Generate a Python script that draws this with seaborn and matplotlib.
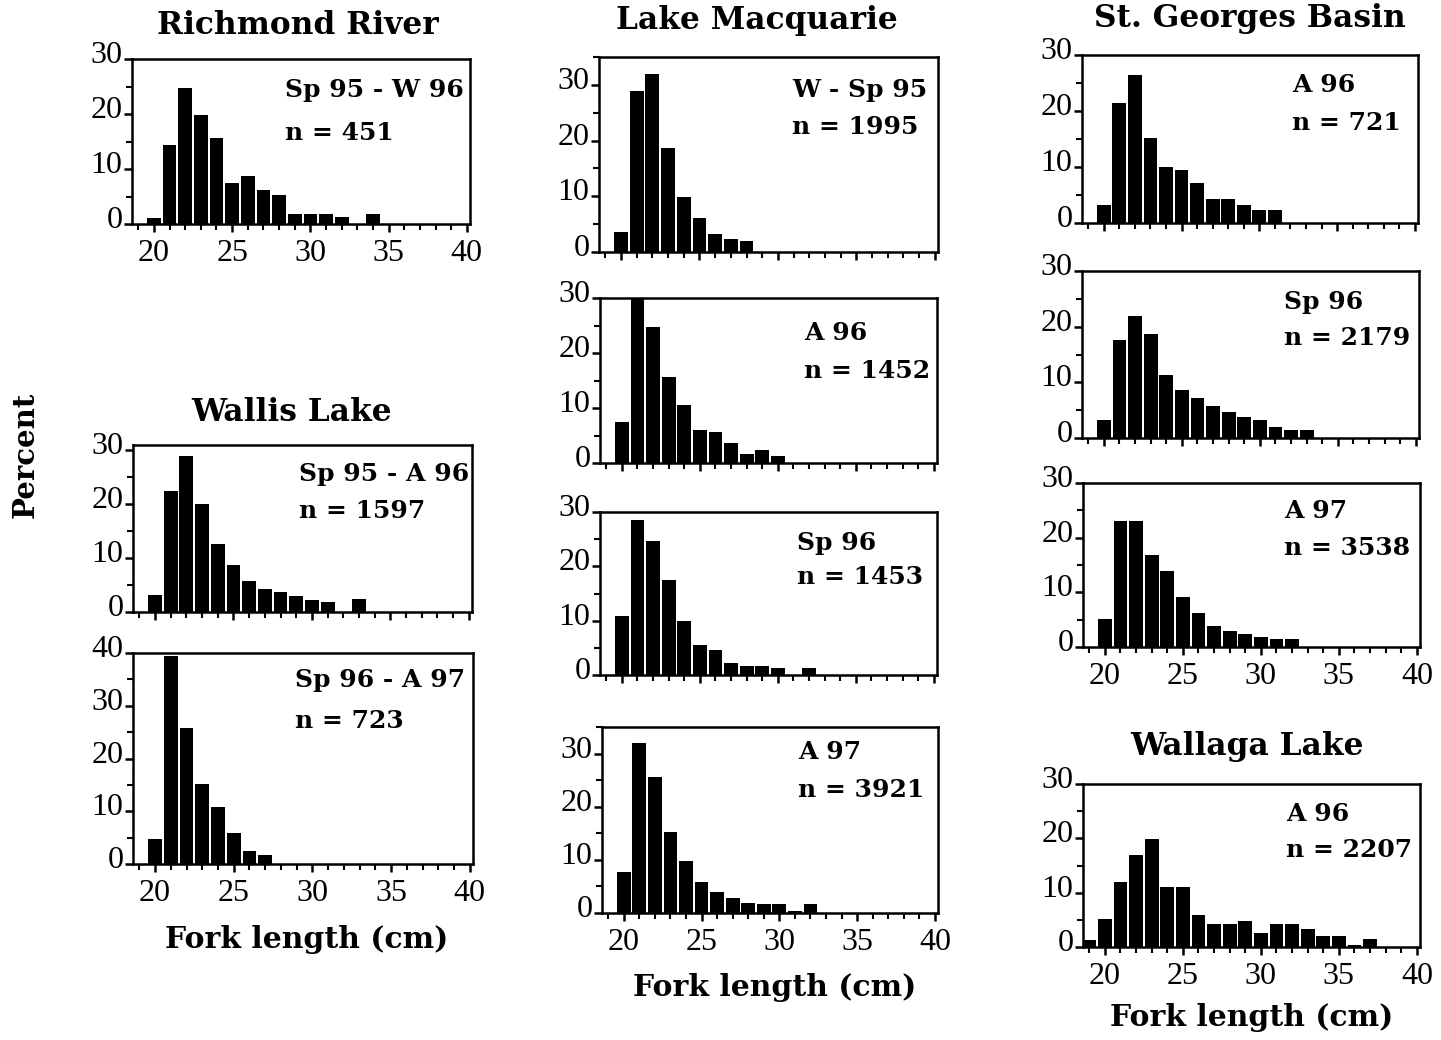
import matplotlib
matplotlib.use("Agg")
import matplotlib.pyplot as plt
import matplotlib.transforms as mtransforms
from matplotlib.ticker import MultipleLocator
import seaborn as sns

# ---- data: percent of catch per 1 cm fork-length class ----
richmond_len = list(range(20, 35))
richmond_pct = [1.1, 14.4, 24.8, 19.9, 15.6, 7.5, 8.7, 6.2, 5.3, 1.8, 1.8, 1.8, 1.3, 0.0, 1.8]

wallis1_len = list(range(20, 34))
wallis1_pct = [3.2, 22.5, 28.9, 20.1, 12.6, 8.8, 5.8, 4.3, 3.8, 2.9, 2.3, 1.9, 0.0, 2.4]

wallis2_len = list(range(20, 28))
wallis2_pct = [4.7, 39.4, 25.8, 15.2, 10.8, 5.8, 2.4, 1.8]

macq1_len = list(range(20, 29))
macq1_pct = [3.6, 28.9, 31.9, 18.7, 9.9, 6.1, 3.3, 2.3, 1.9]

macq2_len = list(range(20, 31))
macq2_pct = [7.4, 30.0, 24.7, 15.6, 10.5, 6.0, 5.6, 3.7, 1.7, 2.3, 1.2]

macq3_len = list(range(20, 33))
macq3_pct = [10.9, 28.6, 24.7, 17.4, 9.9, 5.5, 4.6, 2.2, 1.7, 1.7, 1.2, 0.0, 1.2]

macq4_len = list(range(20, 33))
macq4_pct = [7.8, 31.9, 25.5, 15.2, 9.8, 5.9, 3.9, 2.9, 1.9, 1.6, 1.6, 0.4, 1.6]

stg1_len = list(range(20, 32))
stg1_pct = [3.2, 21.5, 26.4, 15.2, 10.0, 9.5, 7.1, 4.3, 4.3, 3.3, 2.4, 2.4]

stg2_len = list(range(20, 34))
stg2_pct = [3.2, 17.6, 22.0, 18.6, 11.4, 8.6, 7.1, 5.7, 4.7, 3.8, 3.3, 1.9, 1.4, 1.4]

stg3_len = list(range(20, 33))
stg3_pct = [5.1, 23.0, 23.0, 16.8, 13.9, 9.2, 6.2, 3.9, 2.9, 2.4, 1.9, 1.5, 1.5]

wallaga_len = list(range(19, 38))
wallaga_pct = [1.2, 5.2, 12.0, 16.9, 19.9, 11.1, 11.1, 5.8, 4.3, 4.3, 4.8, 2.5,
               4.3, 4.3, 3.4, 2.0, 2.0, 0.3, 1.5]

x_ticks = [20, 25, 30, 35, 40]

# ---- layout (pixel boxes: left, top, right, bottom) ----
W, H = 1441, 1040
panels = [
    # lengths, pct, box, ymax, yticks, period, n, text pos (x, y1, y2), xlabels
    (richmond_len, richmond_pct, (132, 59, 470, 224), 30, [0, 10, 20, 30],
     "Sp 95 - W 96", "n = 451", (285, 90, 133), True),
    (wallis1_len, wallis1_pct, (133, 445, 472, 612), 31, [0, 10, 20, 30],
     "Sp 95 - A 96", "n = 1597", (299, 474, 511), False),
    (wallis2_len, wallis2_pct, (133, 653, 473, 864), 40, [0, 10, 20, 30, 40],
     "Sp 96 - A 97", "n = 723", (295, 680, 721), True),
    (macq1_len, macq1_pct, (599, 57, 938, 252), 35, [0, 10, 20, 30],
     "W - Sp 95", "n = 1995", (792, 90, 127), False),
    (macq2_len, macq2_pct, (600, 298, 937, 463), 30, [0, 10, 20, 30],
     "A 96", "n = 1452", (804, 333, 371), False),
    (macq3_len, macq3_pct, (600, 512, 937, 675), 30, [0, 10, 20, 30],
     "Sp 96", "n = 1453", (797, 543, 577), False),
    (macq4_len, macq4_pct, (602, 727, 938, 913), 35, [0, 10, 20, 30],
     "A 97", "n = 3921", (798, 752, 790), True),
    (stg1_len, stg1_pct, (1082, 55, 1418, 223), 30, [0, 10, 20, 30],
     "A 96", "n = 721", (1292, 85, 123), False),
    (stg2_len, stg2_pct, (1082, 271, 1419, 438), 30, [0, 10, 20, 30],
     "Sp 96", "n = 2179", (1284, 302, 338), False),
    (stg3_len, stg3_pct, (1083, 483, 1420, 647), 30, [0, 10, 20, 30],
     "A 97", "n = 3538", (1284, 511, 548), True),
    (wallaga_len, wallaga_pct, (1083, 784, 1420, 947), 30, [0, 10, 20, 30],
     "A 96", "n = 2207", (1286, 814, 850), True),
]

titles = [("Richmond River", 298, 25), ("Lake Macquarie", 757, 20),
          ("St. Georges Basin", 1250, 18), ("Wallis Lake", 292, 413),
          ("Wallaga Lake", 1247, 747)]
xlabels = [(307, 940), (775, 988), (1252, 1018)]

sns.set_style("ticks")
plt.rcParams["font.family"] = ["Liberation Serif", "DejaVu Serif"]
plt.rcParams["text.color"] = "black"
BOLD_FONT = ["DejaVu Serif"]

fig = plt.figure(figsize=(W / 100, H / 100), dpi=100)


def fx(x):
    return x / W


def fy(y):
    return 1 - y / H


for lens, pct, box, ymax, yticks, period, n_txt, tpos, show_x in panels:
    l, t, r, b = box
    ax = fig.add_axes([fx(l), fy(b), (r - l) / W, (b - t) / H])
    sns.barplot(x=lens, y=pct, native_scale=True, color="black", width=0.88,
                linewidth=0, errorbar=None, ax=ax, saturation=1)
    ax.set_xlim(18.6, 40.2)
    ax.set_ylim(0, ymax)
    ax.set_xticks(x_ticks)
    ax.xaxis.set_minor_locator(MultipleLocator(1))
    ax.set_yticks(yticks)
    ax.yaxis.set_minor_locator(MultipleLocator(5))
    ax.set_xlabel("")
    ax.set_ylabel("")
    for s in ax.spines.values():
        s.set_visible(True)
        s.set_linewidth(1.8)
        s.set_color("black")
    ax.tick_params(axis="both", which="major", direction="out", length=6,
                   width=1.8, labelsize=23, colors="black")
    ax.tick_params(axis="both", which="minor", direction="out", length=4,
                   width=1.5, colors="black")
    ax.tick_params(axis="y", pad=1)
    ax.tick_params(axis="x", pad=5)
    if not show_x:
        ax.set_xticklabels([])
    # labels in the original sit a little above their ticks
    shift = mtransforms.ScaledTranslation(0, 5 / 72, fig.dpi_scale_trans)
    for lab in ax.get_yticklabels():
        lab.set_transform(lab.get_transform() + shift)
    tx, ty1, ty2 = tpos
    fig.text(fx(tx), fy(ty1), period, fontsize=18, fontweight="bold",
             family=BOLD_FONT, ha="left", va="center")
    fig.text(fx(tx), fy(ty2), n_txt, fontsize=18, fontweight="bold",
             family=BOLD_FONT, ha="left", va="center")

for name, x, y in titles:
    fig.text(fx(x), fy(y), name, fontsize=22.5, fontweight="bold",
             family=BOLD_FONT, ha="center", va="center")

for x, y in xlabels:
    fig.text(fx(x), fy(y), "Fork length (cm)", fontsize=21.5, fontweight="bold",
             family=BOLD_FONT, ha="center", va="center")

fig.text(fx(25), fy(455), "Percent", fontsize=21, fontweight="bold",
         family=BOLD_FONT, rotation=90, ha="center", va="center")

fig.savefig("out.png", dpi=100)
